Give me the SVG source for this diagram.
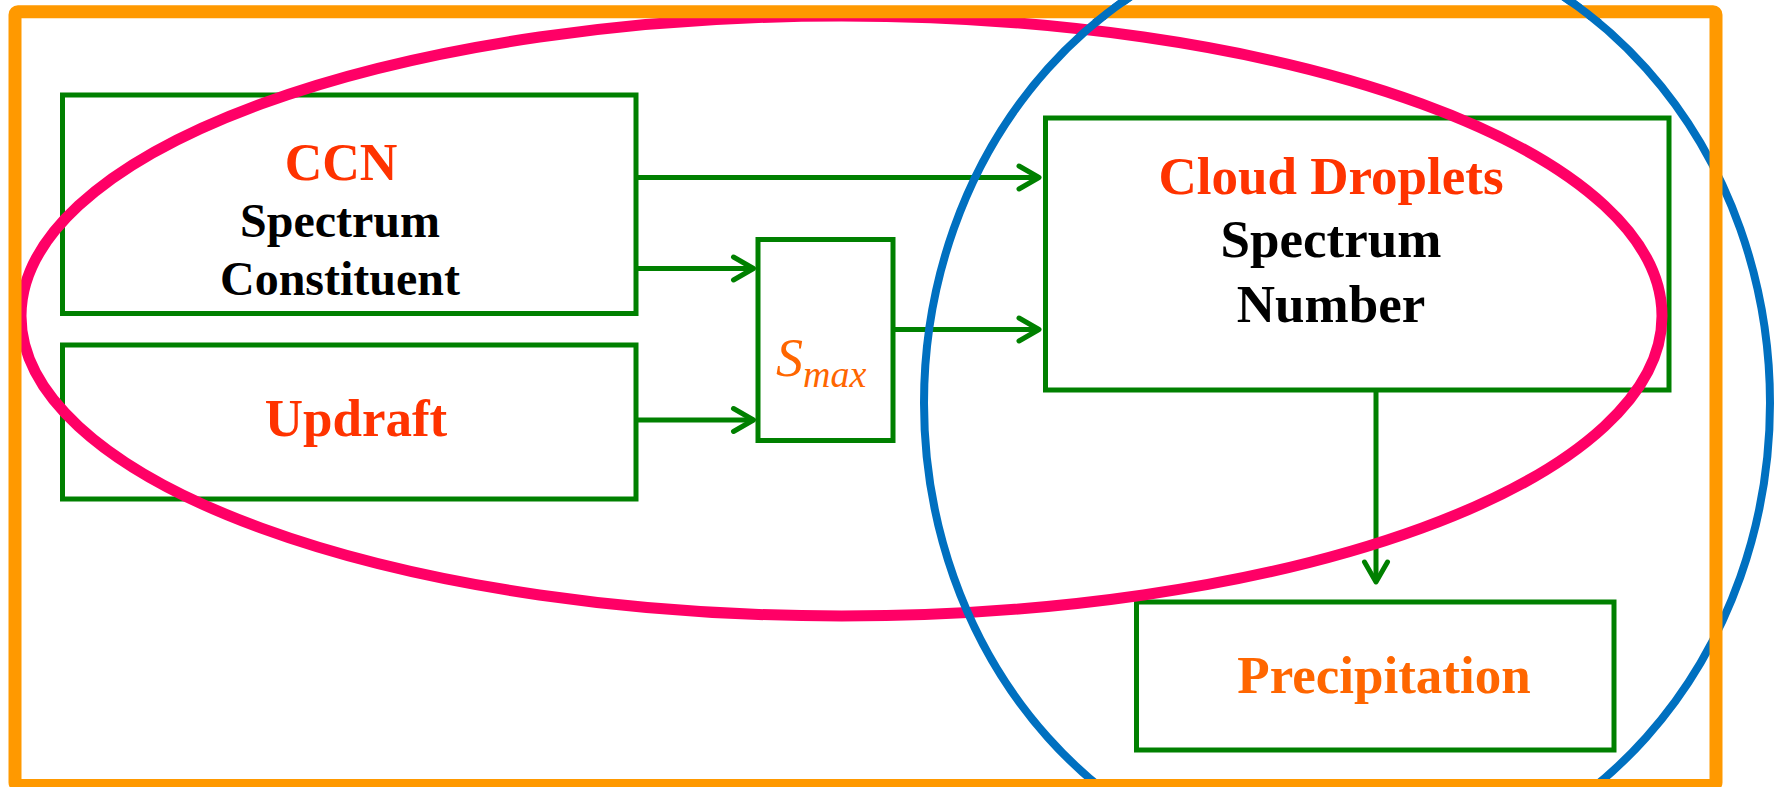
<svg xmlns="http://www.w3.org/2000/svg" width="1778" height="787" viewBox="0 0 1778 787">
  <style>
    .box { fill: none; stroke: #008000; stroke-width: 5; }
    .link { fill: none; stroke: #008000; stroke-width: 5; }
    .t { font-family: "Liberation Serif", "Times New Roman", serif; font-weight: bold; text-anchor: middle; }
    .red { fill: #FF3300; }
    .org { fill: #FF6600; }
    .blk { fill: #000000; }
  </style>
  <defs>
    <marker id="chev" markerUnits="userSpaceOnUse" viewBox="-26 -16 30 32" markerWidth="30" markerHeight="32" refX="0" refY="0" orient="auto" overflow="visible">
      <path d="M-20,-11.5 L0,0 L-20,11.5" fill="none" stroke="#008000" stroke-width="5" stroke-linecap="round" stroke-linejoin="round"/>
    </marker>
    <clipPath id="topStrip">
      <rect x="0" y="0" width="1778" height="20"/>
    </clipPath>
  </defs>

  <rect width="1778" height="787" fill="#ffffff"/>

  <!-- nodes -->
  <g id="ccn">
    <rect class="box" x="62.5" y="95" width="573.5" height="218.5"/>
    <text class="t red" x="341" y="180" font-size="52">CCN</text>
    <text class="t blk" x="340" y="237" font-size="48">Spectrum</text>
    <text class="t blk" x="340" y="295" font-size="48">Constituent</text>
  </g>
  <g id="updraft">
    <rect class="box" x="62.5" y="345" width="573.5" height="154"/>
    <text class="t red" x="356" y="436" font-size="53">Updraft</text>
  </g>
  <g id="smax">
    <rect class="box" x="758" y="239.5" width="135" height="201"/>
    <text x="776" y="376" font-family="'Liberation Serif', 'Times New Roman', serif" font-style="italic" font-size="54" fill="#FF6600">S<tspan font-size="38" dy="11">max</tspan></text>
  </g>
  <g id="cloud-droplets">
    <rect class="box" x="1045.5" y="118" width="623.5" height="272"/>
    <text class="t red" x="1331" y="194" font-size="53">Cloud Droplets</text>
    <text class="t blk" x="1331" y="257" font-size="53">Spectrum</text>
    <text class="t blk" x="1331" y="322" font-size="53">Number</text>
  </g>
  <g id="precipitation">
    <rect class="box" x="1136.5" y="602" width="477.5" height="148"/>
    <text class="t org" x="1384" y="693" font-size="53">Precipitation</text>
  </g>

  <!-- connectors -->
  <g id="connectors">
    <line class="link" x1="636" y1="177.5" x2="1039" y2="177.5" marker-end="url(#chev)"/>
    <line class="link" x1="636" y1="268.5" x2="753.5" y2="268.5" marker-end="url(#chev)"/>
    <line class="link" x1="636" y1="420" x2="753.5" y2="420" marker-end="url(#chev)"/>
    <line class="link" x1="893" y1="329.5" x2="1039" y2="329.5" marker-end="url(#chev)"/>
    <line class="link" x1="1376" y1="390" x2="1376" y2="582" marker-end="url(#chev)"/>
  </g>

  <!-- grouping outlines -->
  <g id="outlines">
    <ellipse id="nucleation-loop" cx="841.5" cy="316" rx="820.5" ry="300" fill="none" stroke="#FF0066" stroke-width="11"/>
    <ellipse id="cloud-loop" cx="1347" cy="403" rx="423" ry="473" fill="none" stroke="#0070C0" stroke-width="8"/>
    <rect id="frame" x="15" y="11.7" width="1701" height="773.8" rx="3" fill="none" stroke="#FF9900" stroke-width="13" stroke-linejoin="round"/>
    <use href="#cloud-loop" clip-path="url(#topStrip)"/>
  </g>
</svg>
